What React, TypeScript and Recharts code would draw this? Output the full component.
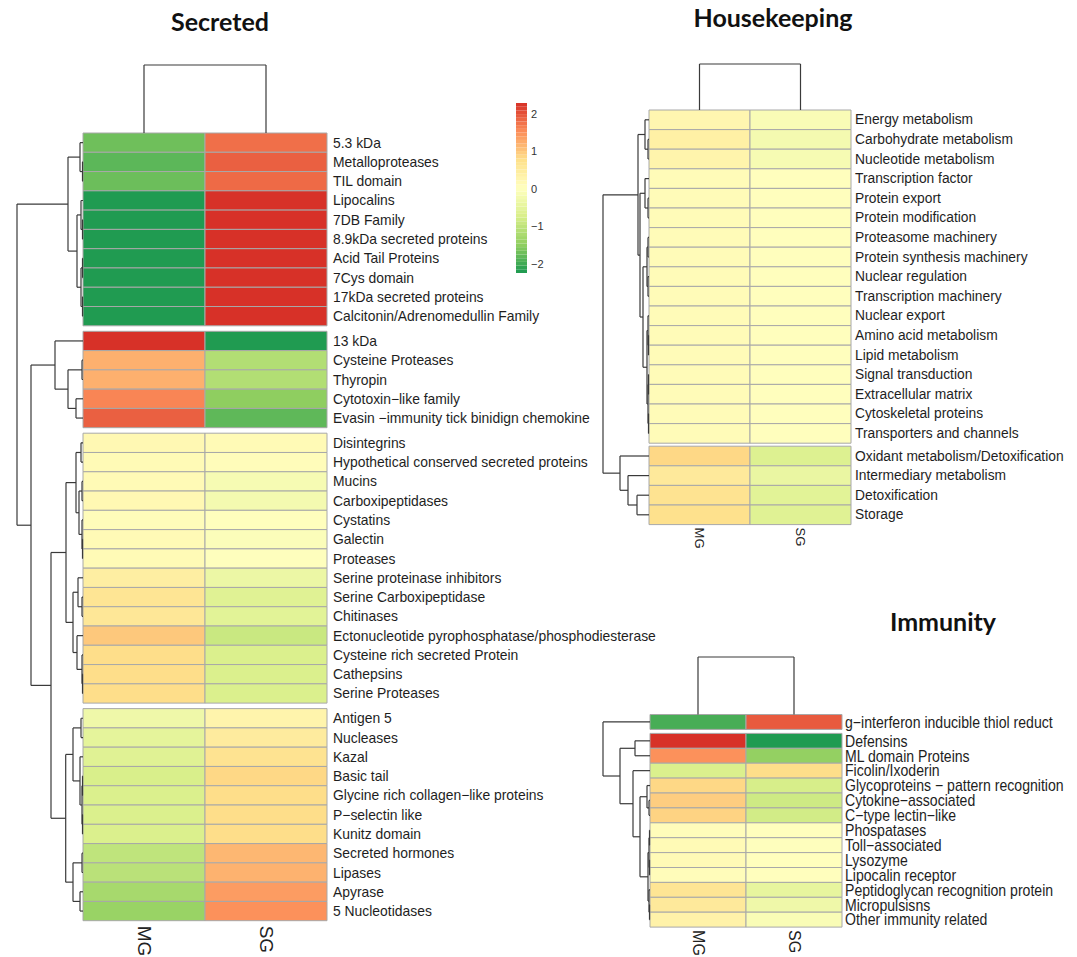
import { ComposedChart, ReferenceArea, ReferenceLine, Scatter, XAxis, YAxis } from 'recharts';

type Tree = number | [Tree, Tree, number];
type Pt = { x: number; y: number };
type Seg = [Pt, Pt];

const SAMPLES = ['MG', 'SG'];

// ---- Secreted ----
const SECRETED_LABELS = [
  '5.3 kDa', 'Metalloproteases', 'TIL domain', 'Lipocalins', '7DB Family',
  '8.9kDa secreted proteins', 'Acid Tail Proteins', '7Cys domain', '17kDa secreted proteins',
  'Calcitonin/Adrenomedullin Family',
  '13 kDa', 'Cysteine Proteases', 'Thyropin', 'Cytotoxin−like family',
  'Evasin −immunity tick binidign chemokine',
  'Disintegrins', 'Hypothetical conserved secreted proteins', 'Mucins', 'Carboxipeptidases',
  'Cystatins', 'Galectin', 'Proteases', 'Serine proteinase inhibitors', 'Serine Carboxipeptidase',
  'Chitinases', 'Ectonucleotide pyrophosphatase/phosphodiesterase', 'Cysteine rich secreted Protein',
  'Cathepsins', 'Serine Proteases',
  'Antigen 5', 'Nucleases', 'Kazal', 'Basic tail', 'Glycine rich collagen−like proteins',
  'P−selectin like', 'Kunitz domain', 'Secreted hormones', 'Lipases', 'Apyrase', '5 Nucleotidases',
];
const SECRETED_MG = [
  -1.7, -1.82, -1.72, -2.2, -2.2, -2.2, -2.2, -2.2, -2.2, -2.2,
  2.28, 1.22, 1.22, 1.6, 1.9,
  0.2, 0.15, 0.15, 0.2, 0.1, 0.15, 0.15, 0.45, 0.65, 0.6, 1.0, 0.8, 0.8, 0.8,
  -0.3, -0.5, -0.6, -0.73, -0.7, -0.7, -0.7, -1.0, -1.05, -1.25, -1.4,
];
const SECRETED_SG = [
  1.78, 1.9, 1.82, 2.28, 2.28, 2.28, 2.28, 2.28, 2.28, 2.28,
  -2.2, -1.14, -1.14, -1.5, -1.8,
  0.15, 0.1, -0.15, -0.2, 0.05, -0.05, 0.0, -0.35, -0.6, -0.55, -0.9, -0.7, -0.7, -0.7,
  0.3, 0.5, 0.7, 0.85, 0.8, 0.8, 0.8, 1.15, 1.2, 1.4, 1.5,
];
const SECRETED_BLOCKS = [10, 5, 14, 11];
const SECRETED_ROW_TREE: Tree = [
  [[0, [1, 2, 0.05], 0.3], [[3, [4, 5, 0.05], 0.2], [[6, 7, 0.05], [8, 9, 0.05], 0.2], 0.6], 1.5],
  [
    [10, [[11, 12, 0.1], [13, 14, 0.7], 1.5], 2.8],
    [
      [
        [[15, 16, 0.2], [[17, 18, 0.1], [19, [20, 21, 0.05], 0.1], 0.4], 0.7],
        [[22, [23, 24, 0.1], 0.5], [25, [26, [27, 28, 0.05], 0.1], 0.6], 1.0],
        1.7,
      ],
      [
        [[29, 30, 0.2], [31, [[32, 33, 0.05], [34, 35, 0.05], 0.1], 0.3], 1.0],
        [[36, 37, 0.1], [38, 39, 0.3], 1.0],
        1.73,
      ],
      3.2,
    ],
    5.2,
  ],
  6.6,
];
const SECRETED_COL_HEIGHT = 6.8;

// ---- Housekeeping ----
const HK_LABELS = [
  'Energy metabolism', 'Carbohydrate metabolism', 'Nucleotide metabolism', 'Transcription factor',
  'Protein export', 'Protein modification', 'Proteasome machinery', 'Protein synthesis machinery',
  'Nuclear regulation', 'Transcription machinery', 'Nuclear export', 'Amino acid metabolism',
  'Lipid metabolism', 'Signal transduction', 'Extracellular matrix', 'Cytoskeletal proteins',
  'Transporters and channels',
  'Oxidant metabolism/Detoxification', 'Intermediary metabolism', 'Detoxification', 'Storage',
];
const HK_MG = [0.25, 0.4, 0.3, 0.12, 0.12, 0.12, 0.12, 0.12, 0.12, 0.12, 0.12, 0.12, 0.12, 0.12, 0.12, 0.12, 0.12, 0.85, 0.55, 0.7, 0.75];
const HK_SG = [-0.1, -0.2, -0.15, 0.05, 0.05, 0.05, 0.05, 0.05, 0.05, 0.05, 0.05, 0.05, 0.05, 0.05, 0.05, 0.05, 0.05, -0.65, -0.4, -0.55, -0.6];
const HK_BLOCKS = [17, 4];
const HK_ROW_TREE: Tree = [
  [
    [0, [1, 2, 0.1], 0.4],
    [
      [3, [4, 5, 0.1], 0.4],
      [
        [[6, 7, 0.1], [8, 9, 0.1], 0.2],
        [[10, [11, 12, 0.05], 0.1], [[13, 14, 0.05], [15, 16, 0.05], 0.1], 0.2],
        0.6,
      ],
      0.9,
    ],
    1.1,
  ],
  [17, [18, [19, 20, 1.2], 2.1], 2.9],
  4.6,
];
const HK_COL_HEIGHT = 4.6;

// ---- Immunity ----
const IMM_LABELS = [
  'g−interferon inducible thiol reduct', 'Defensins', 'ML domain Proteins', 'Ficolin/Ixoderin',
  'Glycoproteins − pattern recognition', 'Cytokine−associated', 'C−type lectin−like', 'Phospatases',
  'Toll−associated', 'Lysozyme', 'Lipocalin receptor', 'Peptidoglycan recognition protein',
  'Micropulsisns', 'Other immunity related',
];
const IMM_MG = [-1.95, 2.28, 1.5, -0.7, 0.85, 0.95, 0.9, 0.1, 0.15, 0.15, 0.1, 0.65, 0.55, 0.35];
const IMM_SG = [1.95, -2.2, -1.45, 0.8, -0.75, -0.85, -0.8, 0.05, 0.0, 0.05, 0.05, -0.45, -0.3, -0.1];
const IMM_BLOCKS = [1, 13];
const IMM_ROW_TREE: Tree = [
  0,
  [
    [1, 2, 1.5],
    [
      3,
      [
        [4, [5, 6, 0.1], 0.3],
        [[[7, 8, 0.05], [9, 10, 0.05], 0.1], [11, [12, 13, 0.05], 0.1], 0.2],
        1.0,
      ],
      1.7,
    ],
    3.0,
  ],
  4.7,
];
const IMM_COL_HEIGHT = 5.75;

// ---- colour key ----
const KEY_MIN = -2.24;
const KEY_MAX = 2.29;
const KEY_TICKS = [-2, -1, 0, 1, 2];
const PALETTE = ['#1a9850', '#91cf60', '#d9ef8b', '#ffffbf', '#fee08b', '#fc8d59', '#d73027'];

const DENDRO_PX = 10; // pixels per unit of merge height
const LINE = '#3a3a3a';
const GRID = '#a8a8a8';
const SANS = "'Liberation Sans', Arial, Helvetica, sans-serif";

function heatColor(v: number) {
  const t = Math.min(1, Math.max(0, (v - KEY_MIN) / (KEY_MAX - KEY_MIN)));
  const p = t * (PALETTE.length - 1);
  const i = Math.min(PALETTE.length - 2, Math.floor(p));
  const f = p - i;
  const a = PALETTE[i];
  const b = PALETTE[i + 1];
  const ch = (s: string, k: number) => parseInt(s.slice(1 + 2 * k, 3 + 2 * k), 16);
  const out = [0, 1, 2].map((k) => Math.round(ch(a, k) + (ch(b, k) - ch(a, k)) * f));
  return `rgb(${out.join(',')})`;
}

function leafPositions(blocks: number[], gap: number) {
  const pos: number[] = [];
  let row = 0;
  blocks.forEach((n, b) => {
    for (let k = 0; k < n; k++) {
      pos.push(row + 0.5 + b * gap);
      row++;
    }
  });
  return pos;
}

function rowDendro(tree: Tree, pos: number[], toX: (h: number) => number) {
  const segs: Seg[] = [];
  const walk = (node: Tree): { p: number; h: number } => {
    if (typeof node === 'number') return { p: pos[node], h: 0 };
    const l = walk(node[0]);
    const r = walk(node[1]);
    const h = node[2];
    segs.push([{ x: toX(h), y: l.p }, { x: toX(h), y: r.p }]);
    segs.push([{ x: toX(l.h), y: l.p }, { x: toX(h), y: l.p }]);
    segs.push([{ x: toX(r.h), y: r.p }, { x: toX(h), y: r.p }]);
    return { p: (l.p + r.p) / 2, h };
  };
  walk(tree);
  return segs;
}

type Geo = {
  box: { left: number; top: number; width: number; height: number };
  heatLeft: number;
  heatTop: number;
  colPx: number;
  rowPx: number;
  gapPx: number;
  dendroLeft: number;
  dendroTop: number;
  labelGap: number;
  labelSize: number;
  labelStretch: number;
  colSize: number;
  colGap: number;
};

type PanelProps = {
  labels: string[];
  mg: number[];
  sg: number[];
  blocks: number[];
  rowTree: Tree;
  colHeight: number;
  geo: Geo;
};

function HeatPanel({ labels, mg, sg, blocks, rowTree, colHeight, geo }: PanelProps) {
  const gapU = geo.gapPx / geo.rowPx;
  const pos = leafPositions(blocks, gapU);
  const total = labels.length + (blocks.length - 1) * gapU;
  const xMin = (geo.dendroLeft - geo.heatLeft) / geo.colPx;
  const yMin = (geo.dendroTop - geo.heatTop) / geo.rowPx;
  const plotRight = geo.heatLeft + 2 * geo.colPx;
  const plotBottom = geo.heatTop + total * geo.rowPx;
  const yAxisWidth = geo.box.left + geo.box.width - plotRight;
  const xAxisHeight = geo.box.top + geo.box.height - plotBottom;

  const cells = labels.flatMap((name, i) =>
    [mg[i], sg[i]].map((v, c) => ({ name, x: c + 0.5, y: pos[i], v, c })),
  );
  const segs = rowDendro(rowTree, pos, (h) => (-h * DENDRO_PX) / geo.colPx);
  const yc = (-colHeight * DENDRO_PX) / geo.rowPx;
  const colSegs: Seg[] = [
    [{ x: 0.5, y: 0 }, { x: 0.5, y: yc }],
    [{ x: 1.5, y: 0 }, { x: 1.5, y: yc }],
    [{ x: 0.5, y: yc }, { x: 1.5, y: yc }],
  ];

  const labelFor = (value: number) => {
    const i = pos.findIndex((p) => Math.abs(p - value) < 1e-6);
    return i >= 0 ? labels[i] : '';
  };

  return (
    <div style={{ position: 'absolute', left: geo.box.left, top: geo.box.top }}>
      <ComposedChart
        width={geo.box.width}
        height={geo.box.height}
        margin={{ top: geo.dendroTop - geo.box.top, left: geo.dendroLeft - geo.box.left, right: 0, bottom: 0 }}
      >
        <XAxis
          type="number"
          dataKey="x"
          domain={[xMin, 2]}
          allowDataOverflow
          ticks={[0.5, 1.5]}
          interval={0}
          height={xAxisHeight}
          axisLine={false}
          tickLine={false}
          tickSize={0}
          tickMargin={0}
          tick={(p: any) => (
            <text
              x={p.x}
              y={p.y + geo.colGap}
              transform={`rotate(90 ${p.x} ${p.y + geo.colGap})`}
              dominantBaseline="central"
              fill="#222"
              fontSize={geo.colSize}
              fontFamily={SANS}
            >
              {SAMPLES[Math.floor(p.payload.value)]}
            </text>
          )}
        />
        <YAxis
          type="number"
          dataKey="y"
          domain={[yMin, total]}
          allowDataOverflow
          reversed
          orientation="right"
          width={yAxisWidth}
          ticks={pos}
          interval={0}
          axisLine={false}
          tickLine={false}
          tickSize={0}
          tickMargin={geo.labelGap}
          tick={(p: any) => (
            <text
              x={0}
              y={0}
              transform={`translate(${p.x} ${p.y}) scale(${geo.labelStretch} 1)`}
              dominantBaseline="central"
              fill="#1e1e1e"
              fontSize={geo.labelSize}
              fontFamily={SANS}
            >
              {labelFor(p.payload.value)}
            </text>
          )}
        />
        {cells.map((d) => (
          <ReferenceArea
            key={`${d.name}-${d.c}`}
            x1={d.c}
            x2={d.c + 1}
            y1={d.y - 0.5}
            y2={d.y + 0.5}
            fill={heatColor(d.v)}
            fillOpacity={1}
            stroke={GRID}
            strokeWidth={1}
            ifOverflow="visible"
          />
        ))}
        {[...segs, ...colSegs].map((s, i) => (
          <ReferenceLine key={i} segment={s} stroke={LINE} strokeWidth={1.2} ifOverflow="visible" />
        ))}
        <Scatter data={cells} dataKey="y" isAnimationActive={false} shape={() => <g />} />
      </ComposedChart>
    </div>
  );
}

function ColourKey() {
  const n = 46;
  const slices = Array.from({ length: n }, (_, i) => {
    const y1 = KEY_MIN + ((KEY_MAX - KEY_MIN) * i) / n;
    const y2 = KEY_MIN + ((KEY_MAX - KEY_MIN) * (i + 1)) / n;
    return { y1, y2, fill: heatColor((y1 + y2) / 2) };
  });
  return (
    <div style={{ position: 'absolute', left: 500, top: 90 }}>
      <ComposedChart width={60} height={200} margin={{ top: 13, left: 16, right: 0, bottom: 17 }}>
        <XAxis type="number" dataKey="x" domain={[0, 1]} hide />
        <YAxis
          type="number"
          dataKey="y"
          domain={[KEY_MIN, KEY_MAX]}
          allowDataOverflow
          orientation="right"
          width={33}
          ticks={KEY_TICKS}
          interval={0}
          axisLine={false}
          tickLine={false}
          tickSize={0}
          tickMargin={4}
          tickFormatter={(v: number) => String(v).replace('-', '−')}
          tick={{ fontSize: 11, fill: '#333', fontFamily: SANS }}
        />
        {slices.map((s, i) => (
          <ReferenceArea key={i} x1={0} x2={1} y1={s.y1} y2={s.y2} fill={s.fill} fillOpacity={1} stroke="none" />
        ))}
        <Scatter data={[{ x: 0.5, y: 0 }]} dataKey="y" isAnimationActive={false} shape={() => <g />} />
      </ComposedChart>
    </div>
  );
}

const titleStyle = {
  position: 'absolute' as const,
  width: 240,
  textAlign: 'center' as const,
  fontFamily: "Lato, 'Open Sans', sans-serif",
  fontWeight: 700,
  fontSize: 25,
  lineHeight: '25px',
  color: '#111',
};

export default function App() {
  return (
    <div style={{ position: 'absolute', left: 0, top: 0, width: 1077, height: 957, background: '#fff', overflow: 'hidden' }}>
      <div style={{ ...titleStyle, left: 100, top: 9 }}>Secreted</div>
      <div style={{ ...titleStyle, left: 653, top: 5 }}>Housekeeping</div>
      <div style={{ ...titleStyle, left: 823, top: 609 }}>Immunity</div>
      <HeatPanel
        labels={SECRETED_LABELS}
        mg={SECRETED_MG}
        sg={SECRETED_SG}
        blocks={SECRETED_BLOCKS}
        rowTree={SECRETED_ROW_TREE}
        colHeight={SECRETED_COL_HEIGHT}
        geo={{
          box: { left: 0, top: 0, width: 700, height: 957 },
          heatLeft: 83,
          heatTop: 133,
          colPx: 122,
          rowPx: 19.28,
          gapPx: 5.5,
          dendroLeft: 10,
          dendroTop: 58,
          labelGap: 6,
          labelSize: 13.9,
          labelStretch: 1,
          colSize: 19,
          colGap: 5,
        }}
      />
      <ColourKey />
      <HeatPanel
        labels={HK_LABELS}
        mg={HK_MG}
        sg={HK_SG}
        blocks={HK_BLOCKS}
        rowTree={HK_ROW_TREE}
        colHeight={HK_COL_HEIGHT}
        geo={{
          box: { left: 590, top: 0, width: 487, height: 575 },
          heatLeft: 649,
          heatTop: 110,
          colPx: 101,
          rowPx: 19.6,
          gapPx: 3,
          dendroLeft: 598,
          dendroTop: 58,
          labelGap: 4,
          labelSize: 13.8,
          labelStretch: 1,
          colSize: 13,
          colGap: 3,
        }}
      />
      <HeatPanel
        labels={IMM_LABELS}
        mg={IMM_MG}
        sg={IMM_SG}
        blocks={IMM_BLOCKS}
        rowTree={IMM_ROW_TREE}
        colHeight={IMM_COL_HEIGHT}
        geo={{
          box: { left: 590, top: 600, width: 487, height: 357 },
          heatLeft: 650,
          heatTop: 714.5,
          colPx: 96,
          rowPx: 14.9,
          gapPx: 4,
          dendroLeft: 597,
          dendroTop: 652,
          labelGap: 3,
          labelSize: 16,
          labelStretch: 0.88,
          colSize: 16,
          colGap: 3,
        }}
      />
    </div>
  );
}
